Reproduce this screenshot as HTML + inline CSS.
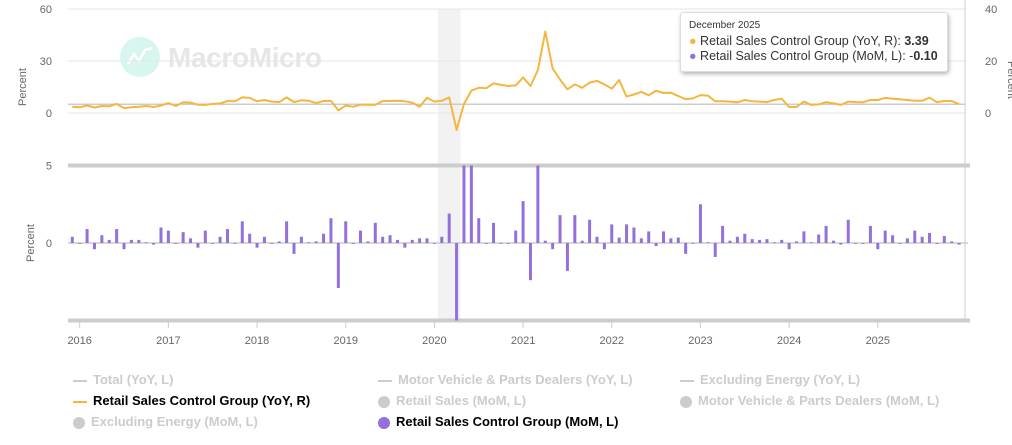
<!DOCTYPE html>
<html><head><meta charset="utf-8"><style>
body{margin:0;background:#fff;font-family:"Liberation Sans",sans-serif;}
#wrap{position:relative;width:1012px;height:445px;overflow:hidden;}
.leg{position:absolute;font-size:13px;font-weight:bold;white-space:nowrap;}
.leg .dash{display:inline-block;width:14px;height:2px;vertical-align:middle;margin-right:6px;}
.leg .dot{display:inline-block;width:12px;height:12px;border-radius:50%;vertical-align:middle;margin-right:6px;}
#tip{position:absolute;left:680px;top:12px;width:266px;height:58px;background:#fff;border:1px solid #ddd;border-radius:3px;box-shadow:1px 2px 4px rgba(0,0,0,0.3);font-size:12.5px;color:#333;}
</style></head><body>
<div id="wrap">
<svg id="chart" width="1012" height="445" style="position:absolute;left:0;top:0"></svg>
<div id="tip">
<div style="position:absolute;left:8px;top:7px;font-size:10px">December 2025</div>
<div style="position:absolute;left:8px;top:21px"><span style="color:#f4b63f">●</span> Retail Sales Control Group (YoY, R): <b>3.39</b></div>
<div style="position:absolute;left:8px;top:36px"><span style="color:#9370db">●</span> Retail Sales Control Group (MoM, L): -<b>0.10</b></div>
</div>
<div class="leg" style="left:73px;top:372px;color:#ccc"><span class="dash" style="background:#ccc"></span>Total (YoY, L)</div>
<div class="leg" style="left:378px;top:372px;color:#ccc"><span class="dash" style="background:#ccc"></span>Motor Vehicle &amp; Parts Dealers (YoY, L)</div>
<div class="leg" style="left:680px;top:372px;color:#ccc"><span class="dash" style="background:#ccc"></span>Excluding Energy (YoY, L)</div>
<div class="leg" style="left:73px;top:393px;color:#000"><span class="dash" style="background:#f4b63f"></span>Retail Sales Control Group (YoY, R)</div>
<div class="leg" style="left:378px;top:393px;color:#ccc"><span class="dot" style="background:#ccc"></span>Retail Sales (MoM, L)</div>
<div class="leg" style="left:680px;top:393px;color:#ccc"><span class="dot" style="background:#ccc"></span>Motor Vehicle &amp; Parts Dealers (MoM, L)</div>
<div class="leg" style="left:73px;top:414px;color:#ccc"><span class="dot" style="background:#ccc"></span>Excluding Energy (MoM, L)</div>
<div class="leg" style="left:378px;top:414px;color:#000"><span class="dot" style="background:#9370db"></span>Retail Sales Control Group (MoM, L)</div>
</div>
<script>
const startYear = 2015, startMonth = 11; // Dec 2015 (0-based month)
const yoy = [2.4,2.2,2.9,2.1,2.7,2.6,3.5,1.9,2.2,2.4,2.7,2.3,2.9,3.8,2.7,4.1,4.0,3.2,3.1,3.5,3.7,4.6,4.5,6.0,5.8,4.5,5.0,4.4,4.2,6.0,4.2,4.9,4.7,3.8,4.6,4.7,1.0,2.9,2.4,3.2,3.2,3.1,4.6,4.6,4.7,4.5,4.0,2.4,5.9,4.4,4.7,6.0,-6.5,3.5,8.6,9.7,9.5,11.4,10.8,10.4,10.6,13.7,10.4,16.5,31.3,17.2,12.9,9.1,11.0,9.7,11.7,12.4,11.0,9.4,12.7,6.3,7.1,8.1,6.8,8.6,7.7,7.8,6.5,5.3,5.6,6.9,6.7,4.5,4.5,4.4,4.1,5.0,4.5,4.4,4.2,5.0,5.5,2.3,2.3,4.4,3.1,3.3,4.2,3.7,3.1,4.4,4.2,4.1,5.0,5.0,5.8,5.5,5.3,5.0,4.7,4.7,5.9,4.2,4.6,4.6,3.39];
const mom = [0.4,0,0.9,-0.4,0.5,0.2,0.9,-0.4,0.2,0.2,0.05,-0.1,1.0,0.8,0,0.7,0.3,-0.3,0.8,0,0.4,0.9,0,1.4,0.6,-0.3,0.4,0,0.1,1.4,-0.7,0.4,0.05,0.1,0.6,1.6,-2.9,1.4,0,0.8,0.1,1.3,0.4,0.5,0.2,-0.3,0.2,0.3,0.3,0,0.4,1.9,-15,12,6,1.6,0,1.3,-0.05,-0.05,0.8,2.7,-2.4,6.9,0.15,-0.4,1.8,-1.8,1.8,0.15,1.5,0.4,-0.4,1.2,0.35,1.2,1.0,0.3,0.75,-0.2,0.75,0.3,0.35,-0.7,0,2.5,0.05,-0.9,1.1,0.15,0.4,0.6,0.25,0.2,0.25,0.05,0.2,-0.4,0.1,0.75,0.05,0.55,1.1,0.15,-0.1,1.5,0,0,1.1,-0.4,0.8,0.5,-0.05,0.3,0.8,0.4,0.65,-0.05,0.45,0.1,-0.1];
const xTickYears = [2016,2017,2018,2019,2020,2021,2022,2023,2024,2025];
const leftTopTicks = [0,30,60];
const rightTopTicks = [0,20,40];
const bottomTicks = [0,5];

const svg = document.getElementById('chart');
const NS = 'http://www.w3.org/2000/svg';
function mk(tag, attrs, parent){const e=document.createElementNS(NS,tag);for(const k in attrs)e.setAttribute(k,attrs[k]);(parent||svg).appendChild(e);return e;}
const x0 = 72.3, pxPerMonth = 7.39;
function xIdx(i){return x0 + i*pxPerMonth;}
function xYear(y){return xIdx((y-startYear)*12 - startMonth);}
function yLeftTop(v){return 113 - v*(104/60);}
function yRightTop(v){return 113 - v*2.6;}
function yBottom(v){return 243 - v*15.5;}

let r = mk('rect',{x:xIdx(50)-4,y:9,width:xIdx(52)-xIdx(50)+8,height:311,fill:'#f2f2f2'});



let wm = mk('g',{});


mk('circle',{cx:140,cy:57,r:20,fill:'#d7f6ef'},wm);
mk('polyline',{points:'128,64 134,54 139,61 145,50 152,48',fill:'none',stroke:'#fff','stroke-width':2.5},wm);
let wt = mk('text',{x:168,y:67,'font-size':28,'font-weight':'bold',fill:'#e6e6e6','font-family':'Liberation Sans',textLength:154},wm);
wt.textContent='MacroMicro';

leftTopTicks.forEach(v=>{
  let l = mk('line',{x1:68,x2:965,y1:yLeftTop(v),y2:yLeftTop(v),stroke:'#e6e6e6','stroke-width':1});
  
  
  let t = mk('text',{x:52,y:yLeftTop(v)+4,'font-size':11,fill:'#666','text-anchor':'end'});
  t.textContent=v;
  
  
});
rightTopTicks.forEach(v=>{
  let t = mk('text',{x:985,y:yRightTop(v)+4,'font-size':11,fill:'#666'});
  t.textContent=v;
  
  
});
let ch = mk('line',{x1:68,x2:965,y1:yRightTop(yoy[yoy.length-1]),y2:yRightTop(yoy[yoy.length-1]),stroke:'#bbb','stroke-width':1.2});



let pts = yoy.map((v,i)=>xIdx(i).toFixed(1)+','+yRightTop(v).toFixed(1)).join(' ');
let pl = mk('polyline',{points:pts,fill:'none',stroke:'#f4b63f','stroke-width':2,'stroke-linejoin':'round'});



let at1 = mk('text',{x:26,y:87,'font-size':11,fill:'#666',transform:'rotate(-90 26 87)','text-anchor':'middle'});
at1.textContent='Percent';


let at2 = mk('text',{x:34,y:243,'font-size':11,fill:'#666',transform:'rotate(-90 34 243)','text-anchor':'middle'});
at2.textContent='Percent';


let at3 = mk('text',{x:1008,y:80,'font-size':11,fill:'#666',transform:'rotate(90 1008 80)','text-anchor':'middle'});
at3.textContent='Percent';



[5,-5].forEach(v=>{
  let b = mk('rect',{x:68,y:yBottom(v)-2,width:902,height:4,fill:'#cccccc'});
  
  
});
let zl = mk('line',{x1:68,x2:968,y1:yBottom(0),y2:yBottom(0),stroke:'#ccc','stroke-width':1.5});


bottomTicks.forEach(v=>{
  let t = mk('text',{x:52,y:yBottom(v)+4,'font-size':11,fill:'#666','text-anchor':'end'});
  t.textContent=v;
  
  
});
let ra = mk('line',{x1:965,x2:965,y1:0,y2:320,stroke:'#ccc','stroke-width':1});



mom.forEach((v,i)=>{
  const c = Math.max(-5,Math.min(5,v));
  const y1 = yBottom(Math.max(c,0)), y2 = yBottom(Math.min(c,0));
  let b = mk('rect',{x:xIdx(i)-1.5,y:y1,width:3,height:Math.max(y2-y1,0.8),fill:'#9370db'});
  
  
});

xTickYears.forEach(yr=>{
  const x = xYear(yr);
  let tk = mk('line',{x1:x,x2:x,y1:321,y2:328,stroke:'#ccc'});
  
  
  let t = mk('text',{x:x,y:344,'font-size':11,fill:'#666','text-anchor':'middle'});
  t.textContent=yr;
  
  
});
</script>
</body></html>
